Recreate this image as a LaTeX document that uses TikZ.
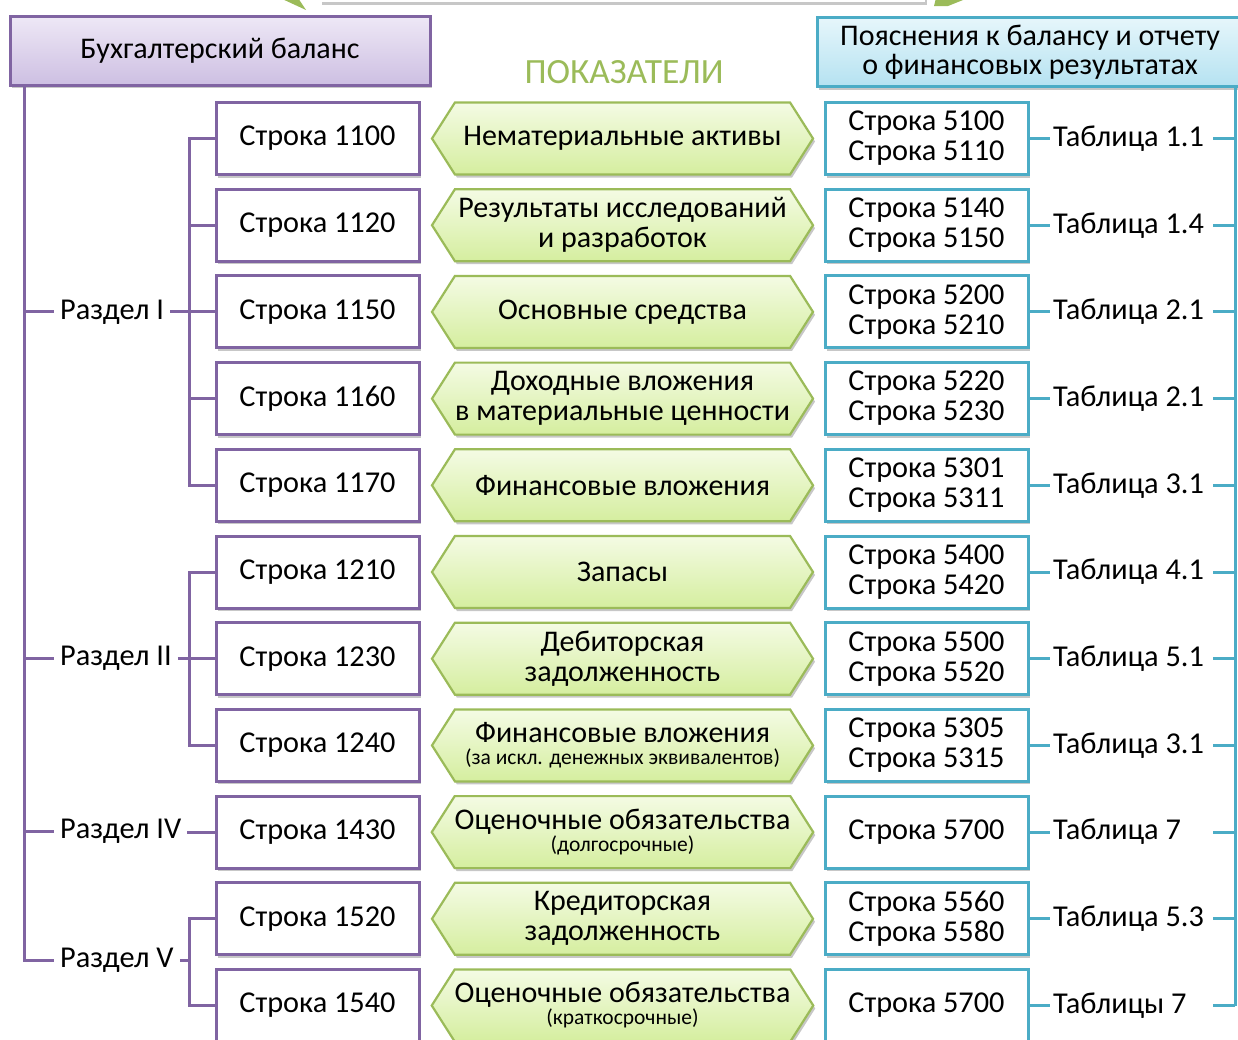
\documentclass[tikz,border=0pt]{standalone}
\usepackage{fontspec}
\setmainfont{Carlito}
\usetikzlibrary{shapes.symbols,shadows,calc}
\definecolor{pur}{HTML}{8064A2}
\definecolor{purT}{HTML}{EEE8F6}
\definecolor{purB}{HTML}{CDBFE2}
\definecolor{cya}{HTML}{4BACC6}
\definecolor{cyaT}{HTML}{E6F6FB}
\definecolor{cyaB}{HTML}{B5E2F1}
\definecolor{grn}{HTML}{9BBB59}
\definecolor{grnT}{HTML}{F4FBE4}
\definecolor{grnB}{HTML}{D5EE9F}
\definecolor{grnTxt}{HTML}{9BBB59}
\begin{document}
\begin{tikzpicture}[x=1pt,y=-1pt,
  sh/.style={drop shadow={shadow xshift=2pt,shadow yshift=-3pt,opacity=0.22,fill=black}},
  bigf/.style={font=\fontsize{30.3}{30}\selectfont},
  lbox/.style={draw=pur,line width=3pt,fill=white,minimum width=203pt,minimum height=72pt,inner sep=0pt,sh,bigf,align=center},
  rbox/.style={draw=cya,line width=3pt,fill=white,minimum width=203pt,minimum height=72pt,inner sep=0pt,sh,bigf,align=center},
  hex/.style={signal,signal to=west and east,signal pointer angle=115,draw=grn,line width=2.2pt,top color=grnT,bottom color=grnB,minimum width=381pt,minimum height=72pt,inner sep=0pt,align=center,sh,font=\fontsize{30}{30}\selectfont},
  lab/.style={inner sep=6pt,bigf},
  tlab/.style={inner sep=3pt,bigf,anchor=west},
  pline/.style={draw=pur,line width=3pt},
  cline/.style={draw=cya,line width=3pt}]
\useasboundingbox (0,0) rectangle (1238,1039);

% top fragments
\fill[white,sh] (320,-60) rectangle (925,2);
\fill[grn] (280,-2) -- (298,-2) -- (306,10) -- cycle;
\fill[grn] (936,-2) -- (968,-2) -- (948,6) -- (934,6) -- cycle;

% headers
\node[draw=pur,line width=3pt,top color=purT,bottom color=purB,minimum width=420pt,minimum height=69pt,inner sep=0pt,sh,font=\fontsize{30}{29}\selectfont] (lhead) at (220,50.5) {Бухгалтерский баланс};
\node[draw=cya,line width=3pt,top color=cyaT,bottom color=cyaB,minimum width=426pt,minimum height=69pt,inner sep=0pt,sh,align=center,font=\fontsize{30}{29}\selectfont] (rhead) at (1030,52) {Пояснения к балансу и отчету\\о финансовых результатах};
\node[text=grnTxt,font=\fontsize{35.5}{36}\selectfont] (title) at (624,72) {ПОКАЗАТЕЛИ};

% left boxes
\node[lbox] (s1) at (317.5,138.5) {Строка 1100};
\node[lbox] (s2) at (317.5,225.2) {Строка 1120};
\node[lbox] (s3) at (317.5,311.9) {Строка 1150};
\node[lbox] (s4) at (317.5,398.6) {Строка 1160};
\node[lbox] (s5) at (317.5,485.3) {Строка 1170};
\node[lbox] (s6) at (317.5,572.0) {Строка 1210};
\node[lbox] (s7) at (317.5,658.7) {Строка 1230};
\node[lbox] (s8) at (317.5,745.4) {Строка 1240};
\node[lbox] (s9) at (317.5,832.1) {Строка 1430};
\node[lbox] (s10) at (317.5,918.8) {Строка 1520};
\node[lbox] (s11) at (317.5,1005.5) {Строка 1540};

% hexagons
\node[hex] (h1) at (622.5,138.5) {Нематериальные активы};
\node[hex] (h2) at (622.5,225.2) {Результаты исследований\\и разработок};
\node[hex] (h3) at (622.5,311.9) {Основные средства};
\node[hex] (h4) at (622.5,398.6) {Доходные вложения\\в материальные ценности};
\node[hex] (h5) at (622.5,485.3) {Финансовые вложения};
\node[hex] (h6) at (622.5,572.0) {Запасы};
\node[hex] (h7) at (622.5,658.7) {Дебиторская\\задолженность};
\node[hex] (h8) at (622.5,745.4) {Финансовые вложения\\[-8pt]{\fontsize{21.5}{22}\selectfont(за искл. денежных эквивалентов)}};
\node[hex] (h9) at (622.5,832.1) {Оценочные обязательства\\[-8pt]{\fontsize{21.5}{22}\selectfont(долгосрочные)}};
\node[hex] (h10) at (622.5,918.8) {Кредиторская\\задолженность};
\node[hex] (h11) at (622.5,1005.5) {Оценочные обязательства\\[-8pt]{\fontsize{21.5}{22}\selectfont(краткосрочные)}};

% right boxes
\node[rbox] (b1) at (926.5,138.5) {Строка 5100\\Строка 5110};
\node[rbox] (b2) at (926.5,225.2) {Строка 5140\\Строка 5150};
\node[rbox] (b3) at (926.5,311.9) {Строка 5200\\Строка 5210};
\node[rbox] (b4) at (926.5,398.6) {Строка 5220\\Строка 5230};
\node[rbox] (b5) at (926.5,485.3) {Строка 5301\\Строка 5311};
\node[rbox] (b6) at (926.5,572.0) {Строка 5400\\Строка 5420};
\node[rbox] (b7) at (926.5,658.7) {Строка 5500\\Строка 5520};
\node[rbox] (b8) at (926.5,745.4) {Строка 5305\\Строка 5315};
\node[rbox] (b9) at (926.5,832.1) {Строка 5700};
\node[rbox] (b10) at (926.5,918.8) {Строка 5560\\Строка 5580};
\node[rbox] (b11) at (926.5,1005.5) {Строка 5700};

% table labels
\node[tlab] (t1) at (1050,138.5) {Таблица 1.1};
\node[tlab] (t2) at (1050,225.2) {Таблица 1.4};
\node[tlab] (t3) at (1050,311.9) {Таблица 2.1};
\node[tlab] (t4) at (1050,398.6) {Таблица 2.1};
\node[tlab] (t5) at (1050,485.3) {Таблица 3.1};
\node[tlab] (t6) at (1050,572.0) {Таблица 4.1};
\node[tlab] (t7) at (1050,658.7) {Таблица 5.1};
\node[tlab] (t8) at (1050,745.4) {Таблица 3.1};
\node[tlab] (t9) at (1050,832.1) {Таблица 7};
\node[tlab] (t10) at (1050,918.8) {Таблица 5.3};
\node[tlab] (t11) at (1050,1005.5) {Таблицы 7};

% section labels
\node[lab,anchor=west] (r1) at (54,311.9) {Раздел I};
\node[lab,anchor=west] (r2) at (54,658.7) {Раздел II};
\node[lab,anchor=west] (r4) at (54,831) {Раздел IV};
\node[lab,anchor=west] (r5) at (54,960) {Раздел V};

% junctions
\coordinate (ltop) at (24,85);
\coordinate (j1) at ([xshift=-25pt]s1.west);
\coordinate (j6) at ([xshift=-25pt]s6.west);
\coordinate (j10) at ([xshift=-25pt]s10.west);

% left connectors
\draw[pline] (ltop) -- (ltop |- r5.west) -- (r5.west);
\draw[pline] (ltop |- r1.west) -- (r1.west);
\draw[pline] (ltop |- r2.west) -- (r2.west);
\draw[pline] (ltop |- r4.west) -- (r4.west);
\draw[pline] (r1.east) -- (s3.west);
\draw[pline] (r2.east) -- (s7.west);
\draw[pline] (r4.east |- s9.west) -- (s9.west);
\draw[pline] (s1.west) -- (j1) |- (s5.west);
\draw[pline] (s2.west) -- (j1 |- s2.west);
\draw[pline] (s4.west) -- (j1 |- s4.west);
\draw[pline] (s6.west) -- (j6) |- (s8.west);
\draw[pline] (s10.west) -- (j10) |- (s11.west);
\draw[pline] (r5.east) -- (j10 |- r5.east);

% right connectors
\coordinate (rtop) at (1235,85);
\draw[cline] (rtop) -- (rtop |- t11);
\foreach \i in {1,...,11}{
  \draw[cline] (b\i.east) -- (t\i.west);
  \draw[cline] (rtop |- t\i) -- ++(-22,0);
}
\end{tikzpicture}
\end{document}
